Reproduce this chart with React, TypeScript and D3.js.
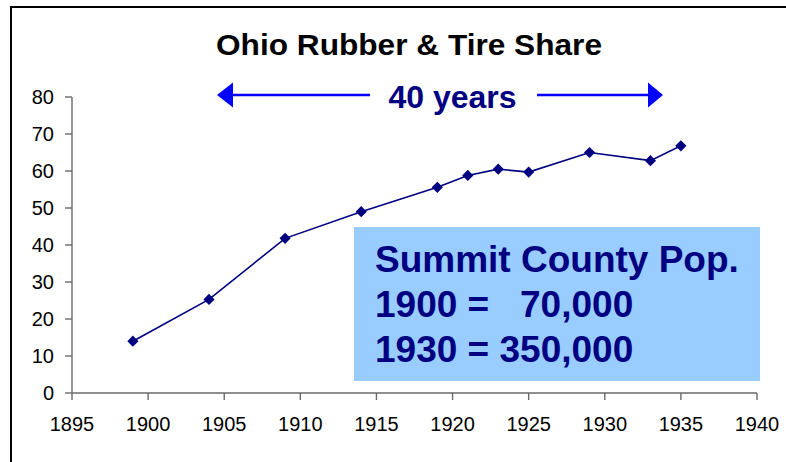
import React from "react";
import * as d3 from "d3";

const years = [1899, 1904, 1909, 1914, 1919, 1921, 1923, 1925, 1929, 1933, 1935];
const shares = [14, 25.3, 41.8, 49, 55.6, 58.8, 60.5, 59.7, 65, 62.8, 66.8];
const xTicks = [1895, 1900, 1905, 1910, 1915, 1920, 1925, 1930, 1935, 1940];
const yTicks = [0, 10, 20, 30, 40, 50, 60, 70, 80];
const boxLines = ["Summit County Pop.", "1900 =   70,000", "1930 = 350,000"];

const W = 786;
const H = 462;
const FONT = "'Liberation Sans', Arial, sans-serif";

export default function App() {
  const x = d3.scaleLinear().domain([1895, 1940]).range([72, 757]);
  const y = d3.scaleLinear().domain([0, 80]).range([393, 97]);
  const pts: [number, number][] = years.map((yr, i) => [x(yr), y(shares[i])]);
  const line = d3.line<[number, number]>().x((d) => d[0]).y((d) => d[1]);
  const diamond = d3.symbol().type(d3.symbolDiamond2).size(80)();
  const axisColor = "#6a6a6a";

  return (
    <svg
      width={W}
      height={H}
      viewBox={`0 0 ${W} ${H}`}
      style={{ position: "absolute", left: 0, top: 0, display: "block", background: "#fff" }}
      fontFamily={FONT}
    >
      <rect x={0} y={0} width={W} height={H} fill="#fff" />
      {/* frame */}
      <line x1={11} y1={6} x2={11} y2={H} stroke="#000" strokeWidth={2} />
      <line x1={10} y1={7} x2={W} y2={7} stroke="#000" strokeWidth={2} />

      {/* title */}
      <text x={409} y={55} textAnchor="middle" fontSize={29} fontWeight="bold" fill="#000" textLength={386} lengthAdjust="spacingAndGlyphs">
        Ohio Rubber &amp; Tire Share
      </text>

      {/* 40 years arrows */}
      <line x1={232} y1={95} x2={370} y2={95} stroke="#0000ff" strokeWidth={2.5} />
      <polygon points="217,95 233,82.5 233,107.5" fill="#0000ff" />
      <line x1={537} y1={95} x2={649} y2={95} stroke="#0000ff" strokeWidth={2.5} />
      <polygon points="663,95 648,82.5 648,107.5" fill="#0000ff" />
      <text x={452.5} y={108} textAnchor="middle" fontSize={32} fontWeight="bold" fill="#000080">
        40 years
      </text>

      {/* axes */}
      <line x1={x(1895)} y1={y(0)} x2={x(1940)} y2={y(0)} stroke={axisColor} strokeWidth={1.4} />
      <line x1={x(1895)} y1={y(80)} x2={x(1895)} y2={y(0)} stroke={axisColor} strokeWidth={1.4} />
      {yTicks.map((t) => (
        <g key={"y" + t}>
          <line x1={x(1895) - 7} x2={x(1895)} y1={y(t)} y2={y(t)} stroke={axisColor} strokeWidth={1.4} />
          <text x={54} y={y(t)} dy="0.36em" textAnchor="end" fontSize={20} fill="#000">
            {t}
          </text>
        </g>
      ))}
      {xTicks.map((t) => (
        <g key={"x" + t}>
          <line x1={x(t)} x2={x(t)} y1={y(0)} y2={y(0) + 7} stroke={axisColor} strokeWidth={1.4} />
          <text x={x(t)} y={431} textAnchor="middle" fontSize={20} fill="#000">
            {t}
          </text>
        </g>
      ))}

      {/* series */}
      <path d={line(pts) || ""} fill="none" stroke="#000080" strokeWidth={1.6} />
      {pts.map((p, i) => (
        <path key={i} d={diamond || ""} transform={`translate(${p[0]},${p[1]})`} fill="#000080" />
      ))}

      {/* info box */}
      <rect x={354} y={227} width={406} height={154} fill="#99ccff" />
      {boxLines.map((s, i) => (
        <text key={i} x={375} y={272 + i * 45} fontSize={37} fontWeight="bold" fill="#000080" style={{ whiteSpace: "pre" }}>
          {s}
        </text>
      ))}
    </svg>
  );
}
